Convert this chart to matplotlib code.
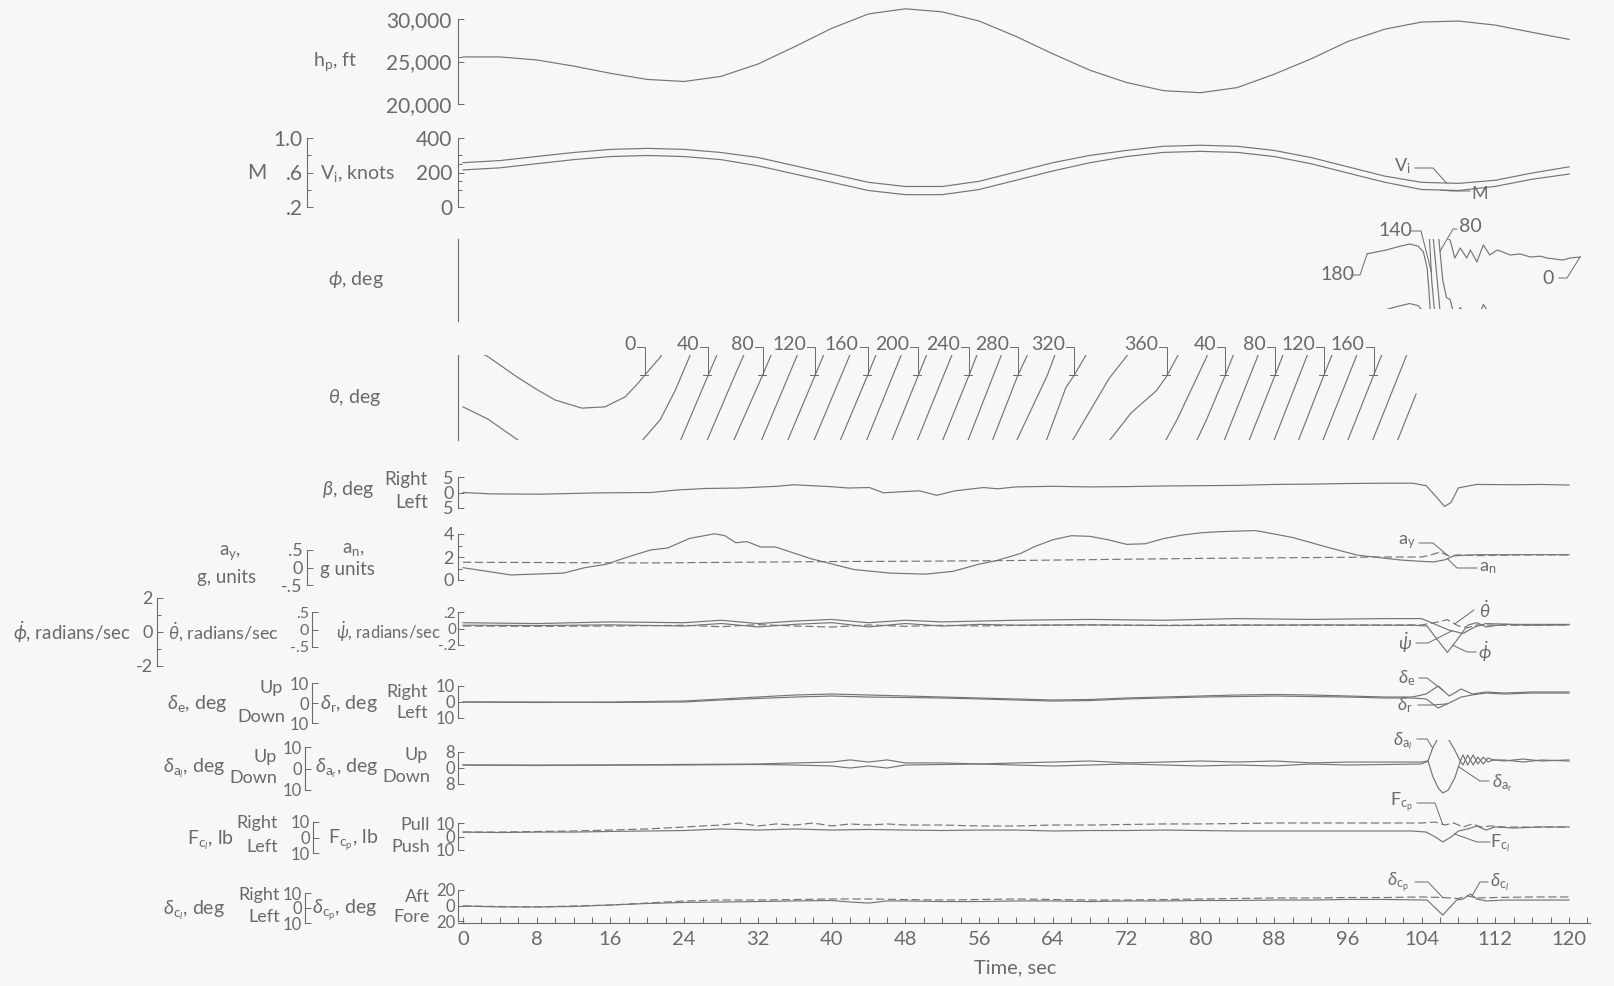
import numpy as np
import matplotlib.pyplot as plt
from matplotlib.lines import Line2D

plt.rcParams['font.family'] = ['Lato', 'DejaVu Sans']
plt.rcParams['mathtext.fontset'] = 'custom'
plt.rcParams['mathtext.rm'] = 'Lato'
plt.rcParams['mathtext.it'] = 'Lato:italic'
plt.rcParams['mathtext.fallback'] = 'cm'
plt.rcParams['axes.unicode_minus'] = False

INK = '#6a6a6a'
W, H = 1614, 986
X0, X1 = 458, 1590          # left spine and right end of time axis, px
T0, SEC = 463, 9.217        # px of t = 0, px per second
XL = ((X0 - T0) / SEC, (X1 - T0) / SEC)

# ---- data ----
hp_t = list(range(0, 121, 4))
hp = [25540, 25540, 25180, 24460, 23610, 22890, 22650, 23250, 24700, 26750, 28900,
      30600, 31200, 30840, 29760, 27950, 25900, 23980, 22530, 21570, 21330, 21930,
      23500, 25300, 27350, 28800, 29640, 29760, 29280, 28430, 27600]
vi = [257, 269, 293, 316, 334, 340, 334, 316, 287, 239, 191, 143, 119, 119, 149, 203,
      257, 299, 328, 352, 358, 352, 328, 287, 233, 179, 143, 137, 155, 197, 233]
mach = [0.630, 0.654, 0.702, 0.749, 0.785, 0.797, 0.785, 0.749, 0.678, 0.582, 0.487,
        0.391, 0.343, 0.343, 0.403, 0.510, 0.618, 0.713, 0.785, 0.833, 0.845, 0.833,
        0.785, 0.702, 0.594, 0.487, 0.403, 0.391, 0.439, 0.522, 0.582]

phi_t = [98.1, 100.2, 101.3, 102.7, 103.6, 104.2, 104.6, 104.8, 104.95, 105.1, 105.4,
         105.7, 106.0, 106.3, 106.7, 107.1, 107.6, 108.2, 108.9, 109.3, 110.0, 110.7,
         111.4, 112.2, 112.8, 113.6, 114.7, 115.8, 116.9, 117.6, 118.5, 119.3, 120.1, 121.2]
phi = [180, 182.9, 185.1, 187.4, 185.9, 181.4, 169.3, 152.6, 135, 115, 92, 70, 47, 25,
       12, 10.4, -3.2, 4.4, -3.2, 2.9, -6.2, 6.7, -0.9, 2.9, 1.4, -0.9, -0.1, -2.4,
       -1.8, -3.2, -4.0, -4.7, -3.2, -2.4]
phi_marks = ['180', '140', '80', '0']

th_t = [0, 2.7, 5.9, 8.1, 10.0, 12.9, 15.4, 17.6, 19.0, 19.7, 21.4, 23.0, 26.6, 29.5,
        32.5, 38.2, 43.9, 49.4, 54.9, 60.2, 63.4, 65.4, 66.3, 68.5, 70.1, 72.5, 75.2,
        76.3, 77.5, 80.7, 82.7, 88.1, 93.4, 98.8, 103.4]
theta = [9.9, 6.0, -0.6, -4.7, -7.9, -10.5, -10.1, -6.9, -2.5, 0, 5.8, 15, 40, 60, 80,
         120, 160, 200, 240, 280, 300, 316, 320, 331, 339, 348, 355, 359.5, 366, 386,
         400, 440, 480, 520, 554]
th_mark_val = [0, 40, 80, 120, 160, 200, 240, 280, 320, 360, 400, 440, 480, 520]
th_mark_txt = ['0', '40', '80', '120', '160', '200', '240', '280', '320', '360',
               '40', '80', '120', '160']

beta_t = [0, 3, 8.4, 14.6, 20.4, 23.2, 26.3, 30.1, 34, 35.9, 39.8, 41.8, 44.1, 45.6,
          49.5, 51.4, 53.4, 56.5, 58, 60, 64, 68, 72, 76, 80, 84, 88, 92, 96, 100,
          103, 104.5, 105.5, 106.5, 107.2, 108, 110, 114, 117, 120]
beta = [0, -0.44, -0.55, -0.12, 0, 0.8, 1.3, 1.45, 2.0, 2.5, 1.9, 1.45, 1.6, -0.1,
        0.55, -0.9, 0.55, 1.6, 1.2, 1.8, 2.0, 1.8, 1.9, 2.1, 2.2, 2.3, 2.6, 2.7, 2.9,
        3.0, 3.0, 2.2, -1.1, -4.5, -3.2, 1.5, 2.6, 2.5, 2.6, 2.4]

an_t = [0, 5.2, 10.9, 13.2, 15.6, 16.7, 18.5, 20.4, 22.2, 24.6, 27.3, 28.4, 29.6, 30.8,
        32.3, 33.9, 37.8, 40.1, 42.4, 46.3, 50.2, 53.2, 56.0, 57.9, 60.5, 62, 64, 66,
        68, 70, 72, 74, 76, 78, 80, 82, 84, 86, 88, 90, 94, 97, 101.7, 104, 105.3,
        106.5, 107.5, 110, 115, 120]
an = [1.07, 0.44, 0.6, 1.07, 1.38, 1.69, 2.16, 2.62, 2.78, 3.62, 4.02, 3.86, 3.24, 3.34,
      2.87, 2.87, 1.84, 1.38, 0.91, 0.6, 0.51, 0.76, 1.38, 1.69, 2.31, 2.9, 3.5, 3.85,
      3.8, 3.5, 3.1, 3.15, 3.6, 3.9, 4.1, 4.2, 4.25, 4.3, 4.0, 3.7, 2.8, 2.17, 1.74,
      1.62, 1.57, 1.75, 2.1, 2.2, 2.2, 2.2]
ay_t = [0, 10, 20, 30, 40, 50, 60, 70, 80, 90, 100, 104, 105, 106, 107, 108, 110, 115, 120]
ay = [0.15, 0.14, 0.13, 0.15, 0.17, 0.18, 0.2, 0.23, 0.26, 0.28, 0.3, 0.3, 0.36,
      0.44, 0.33, 0.36, 0.34, 0.36, 0.36]

phid_t = [0, 8, 16, 24, 28, 32, 36, 40, 44, 48, 52, 56, 60, 68, 76, 84, 92, 100, 103,
          104.6, 105.5, 106.8, 107.8, 109, 110, 111, 113, 116, 120]
phid = [0.4, 0.38, 0.42, 0.35, 0.5, 0.3, 0.45, 0.55, 0.3, 0.5, 0.35, 0.45, 0.4, 0.42,
        0.38, 0.4, 0.42, 0.4, 0.4, 0.35, -0.3, -1.2, -0.5, 0.4, 0.55, 0.3, 0.45, 0.4, 0.42]
psid_t = [0, 8, 16, 24, 28, 32, 36, 40, 44, 48, 52, 56, 60, 68, 76, 84, 92, 100, 104,
          105.5, 107, 108.5, 109.8, 111, 114, 120]
psid = [0.07, 0.06, 0.08, 0.07, 0.1, 0.06, 0.09, 0.11, 0.07, 0.1, 0.08, 0.09, 0.1, 0.11,
        0.1, 0.12, 0.11, 0.12, 0.12, 0.05, -0.02, -0.06, 0.02, 0.06, 0.05, 0.05]
thd_t = [0, 8, 16, 24, 28, 32, 36, 40, 44, 48, 52, 56, 60, 68, 76, 84, 92, 100, 104,
         105.5, 106.8, 108, 109, 110, 114, 120]
thd = [0.1, 0.09, 0.1, 0.12, 0.08, 0.14, 0.1, 0.07, 0.13, 0.09, 0.12, 0.1, 0.12, 0.13,
       0.12, 0.13, 0.12, 0.13, 0.13, 0.2, 0.28, 0.1, 0.05, 0.13, 0.12, 0.13]

de_t = [0, 8, 16, 24, 28, 32, 36, 40, 44, 48, 52, 56, 60, 64, 68, 72, 76, 80, 84, 88,
        92, 96, 100, 103, 104.5, 105.8, 107, 108.3, 109.5, 111, 113, 116, 120]
de = [0.5, 0.25, 0.5, 1, 2, 3, 4, 4.5, 4, 3.5, 3, 2.5, 2, 1.5, 1.75, 2.5, 3, 3.5, 4,
      4.25, 4, 3.5, 3, 3, 4.5, 8.5, 3.5, 7, 4.5, 5.5, 5, 5.5, 5.5]
dr = [0, 0, -0.3, 0, 1.25, 2.2, 3.1, 3.75, 3.1, 2.8, 2.5, 1.9, 1.25, 0.6, 0.9, 1.9,
      2.5, 3.1, 3.4, 3.75, 3.4, 3.1, 2.5, 2.5, 1.9, -3.75, -0.6, 3.1, 4.4, 5.6, 5, 5.6, 5.6]

da_t = [0, 8, 16, 24, 32, 36, 40, 42, 44, 46, 48, 52, 56, 60, 64, 68, 72, 76, 80, 84,
        88, 92, 96, 100, 104, 104.7, 105.2, 105.8, 106.3, 106.9, 107.6, 108.2, 108.5,
        109.0, 109.6, 110.1, 110.7, 111.2, 111.8, 113, 115, 117, 120]
dal = [1.6, 1.6, 1.6, 1.9, 2.1, 2.6, 3.0, 4.0, 3.0, 4.0, 2.6, 2.6, 2.1, 2.6, 3.0, 3.5,
       2.6, 3.0, 3.5, 3.0, 3.5, 2.6, 3.0, 3.0, 3.0, 3.5, 9.5, 14.2, 15.6, 13.7, 8.6,
       3.5, 6.3, 1.6, 6.3, 2.1, 5.3, 3.0, 4.0, 3.5, 4.4, 3.5, 4.0]
dar = [1.5, 1.25, 1.5, 1.5, 1.75, 1.5, 1.0, 0.0, 1.0, 0.0, 1.5, 1.75, 2.0, 1.5, 1.0,
       1.5, 2.0, 1.5, 1.0, 1.5, 1.0, 2.0, 1.5, 1.75, 2.0, 3.5, -4.0, -10.0, -12.5,
       -11.0, -5.0, 3.5, 1.5, 6.5, 1.5, 5.5, 2.0, 5.0, 4.0, 4.0, 3.0, 4.0, 3.5]

fcp_t = [0, 4, 8, 12, 16, 20, 24, 26, 28, 30, 32, 34, 36, 38, 40, 42, 44, 46, 48, 52,
         56, 60, 64, 68, 72, 76, 80, 84, 88, 92, 96, 100, 104, 105.5, 106.5, 107.5,
         108.5, 109.5, 110.5, 111.5, 113, 116, 120]
fcp = [3.3, 3.3, 3.7, 4.1, 4.8, 5.6, 7.0, 7.8, 8.5, 10.0, 7.8, 9.3, 8.5, 10.0, 7.8,
       9.3, 8.5, 9.3, 8.5, 8.5, 7.8, 7.8, 8.5, 8.5, 8.9, 9.3, 9.3, 9.6, 10.0, 10.0,
       10.0, 10.0, 10.0, 10.7, 8.5, 10.0, 7.0, 9.3, 7.0, 7.8, 7.0, 7.0, 7.0]
fcl_t = [0, 4, 8, 12, 16, 20, 24, 28, 32, 36, 40, 44, 48, 52, 56, 60, 64, 68, 72, 76,
         80, 84, 88, 92, 96, 100, 103, 104.5, 105.5, 106.3, 107.2, 108, 109, 110, 111,
         112, 114, 117, 120]
fcl = [3.5, 3.2, 3.5, 3.5, 3.9, 4.2, 4.5, 5.5, 4.8, 5.5, 4.8, 5.2, 4.8, 4.5, 4.8, 4.8,
       4.2, 4.5, 4.5, 4.8, 4.5, 4.2, 4.2, 4.2, 4.2, 4.2, 4.2, 3.5, 0.3, -2.9, 0.3, 4.2,
       5.5, 7.4, 4.8, 6.8, 6.1, 6.8, 6.8]

dcp_t = [0, 4, 8, 12, 16, 20, 24, 28, 32, 36, 40, 44, 48, 52, 56, 60, 64, 68, 72, 76,
         80, 84, 88, 92, 96, 100, 104, 106.3, 108, 109, 110, 112, 116, 120]
dcp = [-0.6, -1.3, -1.9, -0.6, 0.6, 3.2, 5.8, 7.1, 7.1, 7.7, 8.4, 8.4, 7.7, 7.1, 7.7,
       8.4, 7.7, 7.1, 7.1, 7.7, 8.4, 9.0, 9.7, 9.7, 10.3, 10.3, 11.0, 10.3, 9.0, 12.3,
       9.7, 10.3, 11.0, 11.0]
dcl_t = [0, 4, 8, 12, 16, 20, 24, 28, 32, 36, 40, 42, 44, 46, 48, 52, 56, 60, 64, 68,
         72, 76, 80, 84, 88, 92, 96, 100, 104.6, 106.3, 107.8, 108.5, 109.3, 110, 111,
         113, 116, 120]
dcl = [1.3, 0.7, 0.7, 1.0, 2.0, 3.0, 3.7, 4.0, 4.3, 4.7, 5.0, 4.0, 3.3, 4.7, 4.7, 4.3,
       4.3, 4.7, 4.7, 4.3, 4.7, 4.7, 5.0, 5.0, 5.3, 5.3, 5.7, 5.7, 5.3, -4.7, 5.3, 6.0,
       9.3, 6.0, 4.7, 5.3, 5.3, 5.3]

time_ticks = list(range(0, 121, 8))

# ---- figure ----
fig = plt.figure(figsize=(W / 100, H / 100), dpi=100)
fig.patch.set_facecolor('#f7f7f5')


def panel(top, bot):
    ax = fig.add_axes([X0 / W, 1 - bot / H, (X1 - X0) / W, (bot - top) / H])
    ax.set_xlim(XL)
    ax.patch.set_visible(False)
    for s in ax.spines.values():
        s.set_visible(False)
    ax.xaxis.set_visible(False)
    ax.set_yticks([])
    return ax


def twin(ax):
    tw = ax.twinx()
    tw.patch.set_visible(False)
    for s in tw.spines.values():
        s.set_visible(False)
    tw.xaxis.set_visible(False)
    tw.set_xlim(XL)
    return tw


def scale(ax, ptop, pbot, vtop, vbot, ticks=(), labels=(), minor=(), size=12.5, x=None, pad=2.5):
    pos = ax.get_position()
    atop, abot = (1 - pos.y1) * H, (1 - pos.y0) * H
    k = (vtop - vbot) / (pbot - ptop)
    ax.set_ylim(vbot + (pbot - abot) * k, vbot + (pbot - atop) * k)
    sp = ax.spines['left']
    sp.set_visible(True)
    sp.set_bounds(min(vtop, vbot), max(vtop, vbot))
    sp.set_color(INK)
    sp.set_linewidth(0.8)
    if x is not None:
        sp.set_position(('outward', (X0 - x) * 0.72))
    ax.yaxis.tick_left()
    ax.set_yticks(list(ticks), list(labels))
    ax.set_yticks(list(minor), minor=True)
    ax.tick_params(axis='y', which='both', direction='in', colors=INK, width=0.7,
                   labelsize=size, pad=pad)
    ax.tick_params(axis='y', which='major', length=4)
    ax.tick_params(axis='y', which='minor', length=3)


def ptext(x, y, s, ha='center', size=14):
    fig.text(x / W, 1 - y / H, s, ha=ha, va='center', fontsize=size, color=INK)


def line_px(pts, lw=0.7):
    fig.add_artist(Line2D([p[0] / W for p in pts], [1 - p[1] / H for p in pts],
                          transform=fig.transFigure, color=INK, lw=lw))


def to_px(ax, t, v):
    X, Y = ax.transData.transform((t, v))
    return X, H - Y


def callout(ax, s, txy, via, t, ts, vs, off=0.0, size=13):
    tip = to_px(ax, t, np.interp(t, ts, vs) + off)
    line_px(list(via) + [tip])
    ptext(txy[0], txy[1], s, size=size)


def trace(ax, ts, vs, dashed=False):
    ax.plot(ts, vs, color='#757575', lw=0.85, ls=(0, (7, 3)) if dashed else '-',
            solid_joinstyle='round')


# altitude
axh = panel(8, 114)
scale(axh, 19, 104, 30000, 20000, [20000, 25000, 30000], ['20,000', '25,000', '30,000'],
      minor=[25500], size=15, pad=5)
trace(axh, hp_t, hp)
ptext(313, 62, r'h$_\mathrm{p}$, ft', ha='left')

# airspeed and Mach number
axv = panel(128, 215)
scale(axv, 138, 207, 400, 0, [0, 200, 400], ['0', '200', '400'], minor=[100, 150, 250, 300],
      size=15, pad=4)
axm = twin(axv)
scale(axm, 138, 207, 1.0, 0.2, [0.2, 0.6, 1.0], ['.2', '.6', '1.0'], minor=[0.4, 0.8],
      size=15, x=307, pad=3)
trace(axv, hp_t, vi)
trace(axm, hp_t, mach)
ptext(257, 173, 'M', size=15)
ptext(320, 173, r'V$_\mathrm{i}$, knots', ha='left')

# bank angle, wraps every 45 deg
axp = panel(239, 309)
scale(axp, 239, 321, 62, 0)
for k in range(-1, 6):
    trace(axp, phi_t, np.array(phi) - 129.2 + 45 * k)
ptext(328, 280, r'$\phi$, deg', ha='left')

# pitch angle, wraps every 20 deg
axt = panel(355, 440)
scale(axt, 355, 440, 27.2, 0)
for k in range(-1, 31):
    trace(axt, th_t, np.array(theta) + 20.7 - 20 * k)
ptext(328, 397, r'$\theta$, deg', ha='left')

# sideslip
axb = panel(470, 515)
scale(axb, 477, 508, 5, -5, [-5, 0, 5], ['5', '0', '5'], size=13, pad=3)
trace(axb, beta_t, beta)
ptext(322, 490, r'$\beta$, deg', ha='left')
ptext(428, 480, 'Right', ha='right', size=13.5)
ptext(428, 503, 'Left', ha='right', size=13.5)

# accelerations
axa = panel(528, 592)
scale(axa, 534, 580, 4, 0, [0, 2, 4], ['0', '2', '4'], minor=[1, 3], size=13, pad=3)
axy = twin(axa)
scale(axy, 550, 585, 0.5, -0.5, [-0.5, 0, 0.5], ['-.5', '0', '.5'], size=13, x=307, pad=3)
trace(axa, an_t, an)
trace(axy, ay_t, ay, dashed=True)
ptext(353, 550, r'a$_\mathrm{n}$,', size=13.5)
ptext(320, 570, 'g units', ha='left', size=13.5)
ptext(230, 553, r'a$_\mathrm{y}$,', size=13.5)
ptext(227, 577, 'g, units', size=13.5)

# angular velocities
axr = panel(592, 672)
scale(axr, 612, 645, 0.2, -0.2, [-0.2, 0, 0.2], ['-.2', '0', '.2'], size=11, pad=1.5)
axq = twin(axr)
scale(axq, 612, 647, 0.5, -0.5, [-0.5, 0, 0.5], ['-.5', '0', '.5'], size=11.5, x=312, pad=2)
axw = twin(axr)
scale(axw, 598, 666, 2, -2, [-2, 0, 2], ['-2', '0', '2'], minor=[-1, 1], size=13, x=157, pad=3)
trace(axr, psid_t, psid)
trace(axq, thd_t, thd, dashed=True)
trace(axw, phid_t, phid)
ptext(336, 632, r'$\dot{\psi}$, radians/sec', ha='left', size=12)
ptext(168, 632, r'$\dot{\theta}$, radians/sec', ha='left', size=13)
ptext(13, 632, r'$\dot{\phi}$, radians/sec', ha='left', size=13.5)

# elevator and rudder
axd = panel(676, 730)
scale(axd, 686, 718, 10, -10, [-10, 0, 10], ['10', '0', '10'], size=12, pad=2)
axe = twin(axd)
scale(axe, 683, 723, 10, -10, [-10, 0, 10], ['10', '0', '10'], size=12, x=312, pad=2)
trace(axd, de_t, dr)
trace(axe, de_t, de)
ptext(167, 703, r'$\delta_\mathrm{e}$, deg', ha='left')
ptext(283, 688, 'Up', ha='right', size=13)
ptext(285, 717, 'Down', ha='right', size=13)
ptext(320, 703, r'$\delta_\mathrm{r}$, deg', ha='left')
ptext(428, 692, 'Right', ha='right', size=13)
ptext(428, 713, 'Left', ha='right', size=13)

# ailerons
axar = panel(740, 800)
scale(axar, 752, 784, 8, -8, [-8, 0, 8], ['8', '0', '8'], size=12, pad=2)
axal = twin(axar)
scale(axal, 747, 790, 10, -10, [-10, 0, 10], ['10', '0', '10'], size=12, x=305, pad=2)
trace(axar, da_t, dar)
trace(axal, da_t, dal)
ptext(163, 768, r'$\delta_{\mathrm{a}_l}$, deg', ha='left')
ptext(277, 757, 'Up', ha='right', size=13)
ptext(277, 778, 'Down', ha='right', size=13)
ptext(315, 768, r'$\delta_{\mathrm{a}_\mathrm{r}}$, deg', ha='left')
ptext(428, 755, 'Up', ha='right', size=13)
ptext(430, 777, 'Down', ha='right', size=13)

# control forces
axf = panel(812, 862)
scale(axf, 823, 850, 10, -10, [-10, 0, 10], ['10', '0', '10'], size=12, pad=2)
axfl = twin(axf)
scale(axfl, 822, 853, 10, -10, [-10, 0, 10], ['10', '0', '10'], size=12, x=313, pad=2)
trace(axf, fcp_t, fcp, dashed=True)
trace(axfl, fcl_t, fcl)
ptext(187, 840, r'F$_{\mathrm{c}_l}$, lb', ha='left')
ptext(278, 823, 'Right', ha='right', size=13)
ptext(278, 847, 'Left', ha='right', size=13)
ptext(328, 840, r'F$_{\mathrm{c}_\mathrm{p}}$, lb', ha='left')
ptext(430, 825, 'Pull', ha='right', size=13)
ptext(430, 847, 'Push', ha='right', size=13)

# stick positions
axc = panel(884, 928)
scale(axc, 890, 921, 20, -20, [-20, 0, 20], ['20', '0', '20'], size=12, pad=2)
axcl = twin(axc)
scale(axcl, 893, 923, 10, -10, [-10, 0, 10], ['10', '0', '10'], size=12, x=305, pad=2)
trace(axc, dcp_t, dcp, dashed=True)
trace(axcl, dcl_t, dcl)
ptext(163, 910, r'$\delta_{\mathrm{c}_l}$, deg', ha='left')
ptext(280, 895, 'Right', ha='right', size=13)
ptext(280, 917, 'Left', ha='right', size=13)
ptext(312, 910, r'$\delta_{\mathrm{c}_\mathrm{p}}$, deg', ha='left')
ptext(430, 897, 'Aft', ha='right', size=13)
ptext(430, 917, 'Fore', ha='right', size=13)

# time axis
tax = fig.add_axes([X0 / W, 1 - 923 / H, (X1 - X0) / W, 20 / H])
tax.set_xlim(XL)
tax.patch.set_visible(False)
for s in ('left', 'right', 'top'):
    tax.spines[s].set_visible(False)
tax.spines['bottom'].set_color(INK)
tax.spines['bottom'].set_linewidth(0.8)
tax.set_yticks([])
tax.set_xticks(time_ticks, [str(v) for v in time_ticks])
tax.set_xticks(np.arange(0, 123, 2), minor=True)
tax.tick_params(axis='x', which='both', direction='in', length=4.5, width=0.7, colors=INK,
                labelsize=14.5, pad=6)
ptext(1015, 968, 'Time, sec', size=14.5)

# pitch-angle marks
i0 = th_t.index(15.4)
for val, txt in zip(th_mark_val, th_mark_txt):
    tv = np.interp(val, theta[i0:], th_t[i0:])
    xt, yt = to_px(axt, tv, 20.7)
    line_px([(xt - 8, 347), (xt, 347), (xt, yt)])
    line_px([(xt - 5, yt), (xt + 3, yt)])
    ptext(xt - 9, 345, txt, ha='right', size=14)

# bank-angle marks
callout(axp, phi_marks[0], (1337, 274), [(1351, 275), (1360, 275)], 98.1, phi_t, phi, -129.2, 14)
callout(axp, phi_marks[1], (1395, 230), [(1411, 231), (1421, 231)], 105.05, phi_t, phi, -129.2 + 45, 14)
callout(axp, phi_marks[2], (1470, 227), [(1457, 229), (1453, 229)], 106.0, phi_t, phi, -129.2 + 135, 14)
callout(axp, phi_marks[3], (1548, 278), [(1559, 278), (1567, 278)], 121.2, phi_t, phi, -129.2 + 180, 14)

# trace labels
callout(axv, r'V$_\mathrm{i}$', (1402, 166), [(1415, 168), (1433, 168)], 106.7, hp_t, vi)
callout(axm, 'M', (1480, 194), [(1470, 191), (1451, 191)], 106.1, hp_t, mach)
callout(axy, r'a$_\mathrm{y}$', (1407, 542), [(1419, 543), (1433, 543)], 106.8, ay_t, ay)
callout(axa, r'a$_\mathrm{n}$', (1488, 568), [(1477, 568), (1457, 568)], 106.8, an_t, an)
callout(axq, r'$\dot{\theta}$', (1485, 610), [(1474, 610)], 107.6, thd_t, thd)
callout(axr, r'$\dot{\psi}$', (1405, 643), [(1416, 643), (1428, 643)], 107.3, psid_t, psid)
callout(axw, r'$\dot{\phi}$', (1485, 652), [(1476, 652), (1467, 652)], 107.4, phid_t, phid)
callout(axe, r'$\delta_\mathrm{e}$', (1407, 678), [(1419, 678), (1427, 678)], 106.3, de_t, de)
callout(axd, r'$\delta_\mathrm{r}$', (1405, 705), [(1418, 705), (1433, 705)], 106.8, de_t, dr)
callout(axal, r'$\delta_{\mathrm{a}_l}$', (1403, 741), [(1417, 739), (1427, 739)], 105.2, da_t, dal)
callout(axar, r'$\delta_{\mathrm{a}_\mathrm{r}}$', (1502, 783), [(1489, 781), (1480, 781)], 108.0, da_t, dar)
callout(axf, r'F$_{\mathrm{c}_\mathrm{p}}$', (1402, 803), [(1417, 803), (1435, 803)], 106.3, fcp_t, fcp)
callout(axfl, r'F$_{\mathrm{c}_l}$', (1500, 843), [(1490, 842), (1477, 842)], 107.6, fcl_t, fcl)
callout(axc, r'$\delta_{\mathrm{c}_\mathrm{p}}$', (1398, 883), [(1415, 882), (1428, 882)], 106.3, dcp_t, dcp)
callout(axcl, r'$\delta_{\mathrm{c}_l}$', (1500, 882), [(1488, 882), (1480, 882)], 109.5, dcl_t, dcl)

fig.savefig('out.png', dpi=100, facecolor=fig.get_facecolor())
